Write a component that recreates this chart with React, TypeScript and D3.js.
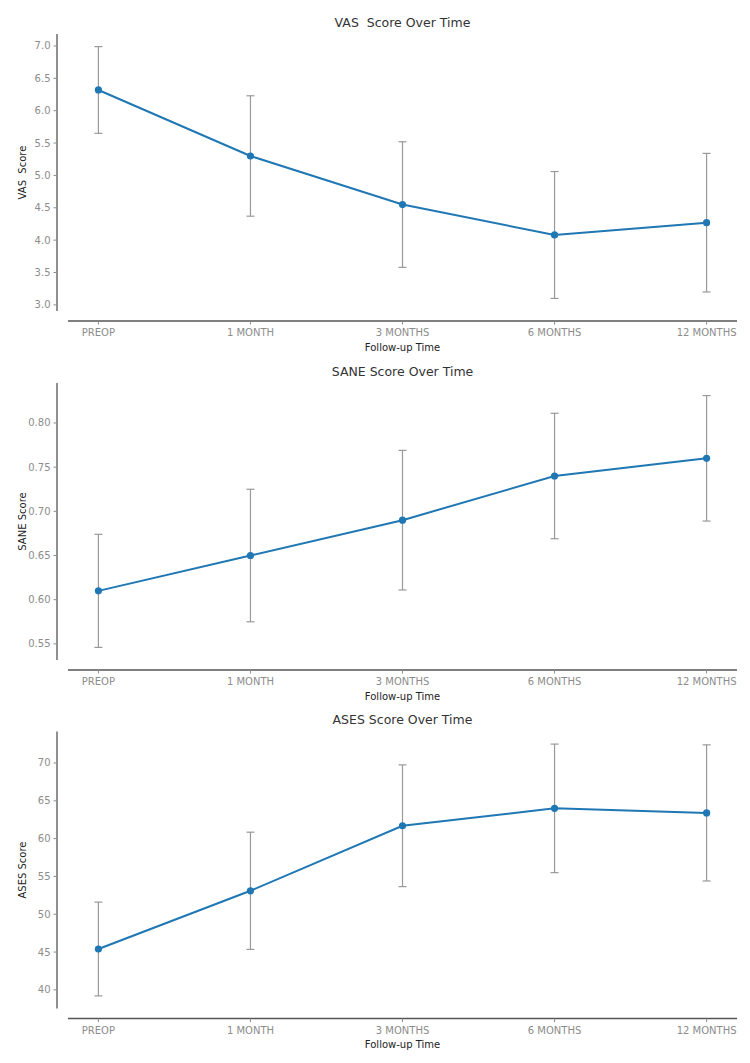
import { useEffect, useRef } from 'react';
import * as d3 from 'd3';

const categories = ['PREOP', '1 MONTH', '3 MONTHS', '6 MONTHS', '12 MONTHS'];

const vasMean = [6.32, 5.3, 4.55, 4.08, 4.27];
const vasSd = [0.67, 0.93, 0.97, 0.98, 1.07];
const vasTicks = [3.0, 3.5, 4.0, 4.5, 5.0, 5.5, 6.0, 6.5, 7.0];

const saneMean = [0.61, 0.65, 0.69, 0.74, 0.76];
const saneSd = [0.064, 0.075, 0.079, 0.071, 0.071];
const saneTicks = [0.55, 0.6, 0.65, 0.7, 0.75, 0.8];

const asesMean = [45.4, 53.1, 61.7, 64.0, 63.4];
const asesSd = [6.2, 7.75, 8.05, 8.5, 9.0];
const asesTicks = [40, 45, 50, 55, 60, 65, 70];

interface Panel {
  title: string;
  yLabel: string;
  mean: number[];
  sd: number[];
  ticks: number[];
  digits: number;
  top: number;
}

const panels: Panel[] = [
  { title: 'VAS  Score Over Time', yLabel: 'VAS  Score', mean: vasMean, sd: vasSd, ticks: vasTicks, digits: 1, top: 34 },
  { title: 'SANE Score Over Time', yLabel: 'SANE Score', mean: saneMean, sd: saneSd, ticks: saneTicks, digits: 2, top: 383 },
  { title: 'ASES Score Over Time', yLabel: 'ASES Score', mean: asesMean, sd: asesSd, ticks: asesTicks, digits: 0, top: 731.5 },
];

const WIDTH = 750;
const HEIGHT = 1063;
const FONT = 'DejaVu Sans, sans-serif';

export default function App() {
  const svgRef = useRef<SVGSVGElement>(null);

  useEffect(() => {
    if (!svgRef.current) return;
    const svg = d3.select(svgRef.current);
    svg.selectAll('*').remove();

    const left = 68;
    const right = 737;
    const plotH = 277;
    const offset = 10;
    const spine = '#555';
    const tickColor = '#8c8c8c';
    const blue = '#1f77b4';
    const errColor = '#999';

    const x = d3.scaleLinear()
      .domain([-0.2, categories.length - 1 + 0.2])
      .range([left, right]);

    panels.forEach(p => {
      const lo = p.mean.map((m, i) => m - p.sd[i]);
      const hi = p.mean.map((m, i) => m + p.sd[i]);
      const min = d3.min(lo) as number;
      const max = d3.max(hi) as number;
      const pad = (max - min) * 0.05;

      const bottom = p.top + plotH;
      const y = d3.scaleLinear()
        .domain([min - pad, max + pad])
        .range([bottom, p.top]);

      const g = svg.append('g');

      // Title
      g.append('text')
        .attr('x', (left + right) / 2)
        .attr('y', p.top - 7.5)
        .attr('text-anchor', 'middle')
        .attr('font-family', FONT)
        .attr('font-size', 12.5)
        .attr('fill', '#333')
        .style('white-space', 'pre')
        .text(p.title);

      // Y spine (offset)
      const yx = left - offset - 1;
      g.append('line')
        .attr('x1', yx).attr('x2', yx)
        .attr('y1', p.top).attr('y2', bottom)
        .attr('stroke', spine).attr('stroke-width', 1.3);

      const yt = g.selectAll('.ytick')
        .data(p.ticks)
        .join('g')
        .attr('transform', d => `translate(0,${y(d)})`);
      yt.append('line')
        .attr('x1', yx - 3.5).attr('x2', yx)
        .attr('stroke', tickColor).attr('stroke-width', 1);
      yt.append('text')
        .attr('x', yx - 6.5)
        .attr('dy', '0.35em')
        .attr('text-anchor', 'end')
        .attr('font-family', FONT)
        .attr('font-size', 10)
        .attr('fill', tickColor)
        .text(d => d.toFixed(p.digits));

      // Y label
      g.append('text')
        .attr('transform', `translate(26,${(p.top + bottom) / 2}) rotate(-90)`)
        .attr('text-anchor', 'middle')
        .attr('font-family', FONT)
        .attr('font-size', 10)
        .attr('fill', '#222')
        .style('white-space', 'pre')
        .text(p.yLabel);

      // X spine (offset)
      const xy = bottom + offset;
      g.append('line')
        .attr('x1', left).attr('x2', right)
        .attr('y1', xy).attr('y2', xy)
        .attr('stroke', spine).attr('stroke-width', 1.3);

      const xt = g.selectAll('.xtick')
        .data(categories)
        .join('g')
        .attr('transform', (_, i) => `translate(${x(i)},${xy})`);
      xt.append('line')
        .attr('y1', 0).attr('y2', 3.5)
        .attr('stroke', tickColor).attr('stroke-width', 1);
      xt.append('text')
        .attr('y', 15)
        .attr('text-anchor', 'middle')
        .attr('font-family', FONT)
        .attr('font-size', 10)
        .attr('fill', tickColor)
        .text(d => d);

      g.append('text')
        .attr('x', (left + right) / 2)
        .attr('y', xy + 29.5)
        .attr('text-anchor', 'middle')
        .attr('font-family', FONT)
        .attr('font-size', 10)
        .attr('fill', '#222')
        .text('Follow-up Time');

      // Error bars
      const eb = g.selectAll('.err')
        .data(p.mean)
        .join('g')
        .attr('stroke', errColor)
        .attr('stroke-width', 1.2);
      eb.append('line')
        .attr('x1', (_, i) => x(i)).attr('x2', (_, i) => x(i))
        .attr('y1', (_, i) => y(lo[i])).attr('y2', (_, i) => y(hi[i]));
      eb.append('line')
        .attr('x1', (_, i) => x(i) - 4).attr('x2', (_, i) => x(i) + 4)
        .attr('y1', (_, i) => y(lo[i])).attr('y2', (_, i) => y(lo[i]));
      eb.append('line')
        .attr('x1', (_, i) => x(i) - 4).attr('x2', (_, i) => x(i) + 4)
        .attr('y1', (_, i) => y(hi[i])).attr('y2', (_, i) => y(hi[i]));

      // Line
      const line = d3.line<number>()
        .x((_, i) => x(i))
        .y(d => y(d));
      g.append('path')
        .datum(p.mean)
        .attr('fill', 'none')
        .attr('stroke', blue)
        .attr('stroke-width', 2)
        .attr('d', line);

      g.selectAll('.dot')
        .data(p.mean)
        .join('circle')
        .attr('cx', (_, i) => x(i))
        .attr('cy', d => y(d))
        .attr('r', 3.6)
        .attr('fill', blue);
    });
  }, []);

  return (
    <svg
      ref={svgRef}
      width={WIDTH}
      height={HEIGHT}
      style={{ position: 'absolute', left: 0, top: 0, background: '#fff' }}
    />
  );
}
